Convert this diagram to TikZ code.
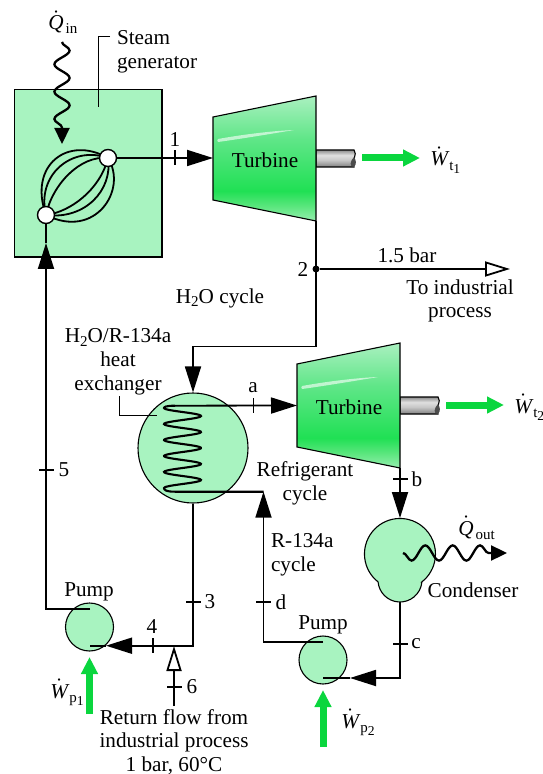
\documentclass[tikz,border=0pt]{standalone}
\usepackage{fontspec}
\setmainfont{Liberation Serif}
\usetikzlibrary{arrows.meta,decorations.pathmorphing}

\definecolor{compgreen}{RGB}{168,243,192}
\definecolor{powergreen}{RGB}{10,214,62}
\definecolor{turbmid}{RGB}{32,224,84}
\definecolor{turbup}{RGB}{96,230,136}
\definecolor{turblow}{RGB}{150,238,175}
\definecolor{turbedge}{RGB}{90,230,125}
\definecolor{complight}{RGB}{170,240,192}
\pgfdeclareverticalshading{turbshade}{100bp}{
  color(0bp)=(turblow); color(25bp)=(turblow); color(31bp)=(turbedge);
  color(37bp)=(turbmid); color(58bp)=(turbup); color(75bp)=(complight); color(100bp)=(complight)}
\pgfdeclareverticalshading{shaftshade}{100bp}{
  color(0bp)=(gray); color(25bp)=(gray); color(45bp)=(gray!45); color(60bp)=(gray!25); color(75bp)=(gray!90); color(100bp)=(gray!90)}

\newcommand{\subfont}{\fontsize{7.5}{8}\selectfont}
\newcommand{\ratelabel}[2]{\(\dot{\mbox{\itshape #1}}\)\hspace{1pt}\raisebox{-2pt}{\subfont #2}}
\newcommand{\ratesub}[3]{\(\dot{\mbox{\itshape #1}}\)\hspace{0.6pt}\raisebox{-2.2pt}{\subfont #2\raisebox{-1.5pt}{\fontsize{6.8}{7}\selectfont #3}}}
\newcommand{\watersub}{\raisebox{-1.6pt}{\subfont 2}}

\begin{document}
\begin{tikzpicture}[
    x=0.5pt, y=-0.5pt,
    every node/.style={font=\fontsize{10.6}{11.9}\selectfont},
    comp node/.style={circle, draw=black, fill=compgreen, line width=0.55pt, inner sep=0pt},
    port node/.style={circle, draw=black, fill=white, line width=0.7pt, inner sep=0pt, minimum size=8.5pt},
    turbine body/.style={draw=black, line width=0.55pt, shading=turbshade},
    main edge/.style={line width=0.9pt, line join=miter},
    flow edge/.style={main edge, -{Triangle[length=13pt,width=8pt]}},
    open edge/.style={main edge, -{Triangle[open,length=12.5pt,width=7.5pt,fill=white]}},
    heat edge/.style={line width=1.15pt, decorate, decoration={snake, segment length=13.7pt, amplitude=3.8pt, post length=8pt}, -{Triangle[length=8pt,width=7.5pt]}},
    power arrow/.style={line width=3.5pt, draw=powergreen, -{Triangle[length=8.5pt,width=8pt]}},
    rate node/.style={anchor=base west, inner sep=0pt},
    leader/.style={line width=0.45pt},
    tick v/.style={fill=black, inner sep=0pt, minimum width=0.6pt, minimum height=7.5pt},
    tick h/.style={fill=black, inner sep=0pt, minimum width=7.5pt, minimum height=0.6pt}
]
\useasboundingbox (0,0) rectangle (542,774);

% steam generator
\node[draw=black, fill=compgreen, line width=0.55pt, inner sep=0pt, minimum width=73.75pt, minimum height=83.75pt] (SG) at (88.25,173.25) {};
\coordinate (PA) at (108,158);
\coordinate (PB) at (46,215);
\draw[main edge] (PB) .. controls (28,165) and (68,135) .. (PA);
\draw[main edge] (PB) .. controls (36,175) and (72,145) .. (PA);
\draw[main edge] (PB) .. controls (52,185) and (80,155) .. (PA);
\draw[main edge] (PB) .. controls (95,240) and (128,190) .. (PA);
\draw[main edge] (PB) .. controls (85,220) and (113,190) .. (PA);
\draw[main edge] (PB) .. controls (70,212) and (100,190) .. (PA);
\node[port node] (PortA) at (PA) {};
\node[port node] (PortB) at (PB) {};

% turbines and shafts
\foreach \dx/\dy in {0/0, 84/247} {
  \begin{scope}[shift={(\dx,\dy)}]
    \path[draw=black, line width=0.55pt, shading=shaftshade] (316,150) -- (354,150) .. controls (358,155) and (351,160) .. (354,167) -- (316,167) -- cycle;
    \fill[black!70] (354,157) .. controls (350,161) and (349,167) .. (354,167) .. controls (357,164) and (356,160) .. (354,157) -- cycle;
    \path[turbine body] (213,117) -- (316,96) -- (316,221) -- (213,200) -- cycle;
    \fill[white, opacity=0.6] (218,139) .. controls (240,135) and (270,131) .. (294,130) .. controls (270,134) and (240,139) .. (218,142) .. controls (217,141) and (217,140) .. (218,139) -- cycle;
  \end{scope}
}
\node (TurbA) at (265,160) {Turbine};
\node (TurbB) at (349,407) {Turbine};
\coordinate (TAin) at (213,158);
\coordinate (TAout) at (316,221);
\coordinate (TBin) at (297,405.5);
\coordinate (TBout) at (400,468);

% heat exchanger, condenser, pumps
\node[comp node, minimum size=55pt] (HX) at (193,448) {};
\node[comp node, minimum size=24pt] (PumpA) at (89.5,627) {};
\node[comp node, minimum size=24pt] (PumpB) at (323,660) {};
\path[draw=black, fill=compgreen, line width=0.55pt] (421.9,581.9) arc[start angle=5, end angle=175, radius=22] arc[start angle=128.1, end angle=411.9, radius=35.5] -- cycle;
\coordinate (CDtop) at (400,518);
\coordinate (CDbot) at (400,602);

% H2O cycle
\coordinate (J1) at (316,269);
\coordinate (HXbend) at (193,346.5);
\coordinate (PAin) at (90,645.7);
\coordinate (PAtip) at (106,645.7);
\coordinate (PAout) at (90,609);
\coordinate (K3) at (193,645.7);
\coordinate (K5) at (46,609);
\coordinate (SGtip) at (46,243);
\draw[flow edge] (PortA) -- (TAin);
\draw[main edge] (TAout) -- (J1);
\draw[flow edge] (J1) |- (HXbend) -- (HX.north);
\draw[main edge] (PAtip) -- (PAin);
\draw[flow edge] (K3 |- HX.south) -- (K3) -- (PAtip);
\draw[main edge] (SGtip) -- (PortB);
\draw[flow edge] (PAout) -- (K5) -- (SGtip);
\node[circle, fill=black, inner sep=0pt, minimum size=3.5pt] (Jdot) at (J1) {};
\coordinate (OutEnd) at (510,269);
\draw[open edge] (Jdot) -- (OutEnd);
\coordinate (RetTip) at (174,646);
\coordinate (RetEnd) at (174,706);
\draw[open edge] (RetEnd) -- (RetTip);

% R-134a cycle
\coordinate (CoilIn) at (175,405.7);
\coordinate (CoilOut) at (175,491.7);
\coordinate (Dbend) at (263.5,491.7);
\coordinate (Dlow) at (263.5,642);
\coordinate (PBin) at (323,678);
\coordinate (PBtip) at (350,678);
\coordinate (PBout) at (323,642);
\coordinate (Cbend) at (400,678);
\draw[flow edge] (CoilIn) -- (TBin);
\draw[main edge, line width=1.05pt] (CoilIn) .. controls (166,405.7) and (164,407) .. (164,408)
    -- plot[domain=0:5, samples=120, smooth] ({182.5-18.5*cos(\x*360)}, {408+16*\x})
    .. controls (164,490) and (166,491.7) .. (CoilOut) -- (Dbend);
\draw[flow edge] (PBout) -- (Dlow) -- (Dbend);
\draw[flow edge] (TBout) -- (CDtop);
\draw[main edge] (PBtip) -- (PBin);
\draw[flow edge] (CDbot) -- (Cbend) -- (PBtip);

% heat and work
\coordinate (QinA) at (62,42);
\coordinate (QinB) at (62,144);
\coordinate (QoutA) at (403,553);
\coordinate (QoutB) at (507,553);
\draw[heat edge] (QinA) -- (QinB);
\draw[heat edge, decoration={mirror}] (QoutA) -- (QoutB);
\coordinate (WtaA) at (362,158);
\coordinate (WtaB) at (420,158);
\coordinate (WtbA) at (446,405);
\coordinate (WtbB) at (504,405);
\coordinate (WpaA) at (89.5,714);
\coordinate (WpaB) at (89.5,657);
\coordinate (WpbA) at (323,747);
\coordinate (WpbB) at (323,690);
\draw[power arrow] (WtaA) -- (WtaB);
\draw[power arrow] (WtbA) -- (WtbB);
\draw[power arrow] (WpaA) -- (WpaB);
\draw[power arrow] (WpbA) -- (WpbB);

% leaders
\coordinate (LsA) at (110,36);
\coordinate (LsB) at (98,36);
\coordinate (LsC) at (98,107);
\draw[leader] (LsA) -- (LsB) -- (LsC);
\coordinate (LhA) at (119,396);
\coordinate (LhB) at (119,415);
\coordinate (LhC) at (157,415);
\draw[leader] (LhA) -- (LhB) -- (LhC);

% state points
\node[tick v] (T1) at (175,158) {};
\node[tick v] (Ta) at (253.5,405.7) {};
\node[tick v] (T4) at (153,645.7) {};
\node[tick h] (T2b) at (400,479) {};
\node[tick h] (Tc) at (400,644) {};
\node[tick h] (T3) at (193,602) {};
\node[tick h] (Td) at (263.5,602) {};
\node[tick h] (T5) at (46,470) {};
\node[tick h] (T6) at (174,687) {};
\node (L1) at (175,140) {1};
\node (L2) at (303,269) {2};
\node (L3) at (210,602) {3};
\node (L4) at (152,627) {4};
\node (L5) at (64,470) {5};
\node (L6) at (192,687) {6};
\node (La) at (253,388) {a};
\node (Lb) at (417,479) {b};
\node (Lc) at (416,644) {c};
\node (Ld) at (281,602) {d};

% labels
\node[align=left, anchor=west] (SGtext) at (110,51.5) {Steam\\generator};
\node[rate node] (Qin) at (48,30) {\ratelabel{Q}{in}};
\node[rate node] (Qout) at (458,535) {\ratelabel{Q}{out}};
\node[rate node] (Wta) at (430,166) {\ratesub{W}{t}{1}};
\node[rate node] (Wtb) at (514,413) {\ratesub{W}{t}{2}};
\node[rate node] (Wpa) at (50,698) {\ratesub{W}{p}{1}};
\node[rate node] (Wpb) at (341,728) {\ratesub{W}{p}{2}};
\node (Bar) at (407,255) {1.5 bar};
\node[align=center] (Ind) at (460,301) {To industrial\\process};
\node (Cyc) at (220,298) {H\watersub O cycle};
\node[align=center] (HXtext) at (118,362) {H\watersub O/R-134a\\heat\\exchanger};
\node[align=center] (Reftext) at (305,483) {Refrigerant\\cycle};
\node[align=left, anchor=west] (Rtext) at (264,554.5) {R-134a\\cycle};
\node (CDtext) at (473,590) {Condenser};
\node (PAtext) at (89,592) {Pump};
\node (PBtext) at (323,625) {Pump};
\node[align=center] (Ret) at (174,742) {Return flow from\\industrial process\\1 bar, 60°C};
\end{tikzpicture}
\end{document}
